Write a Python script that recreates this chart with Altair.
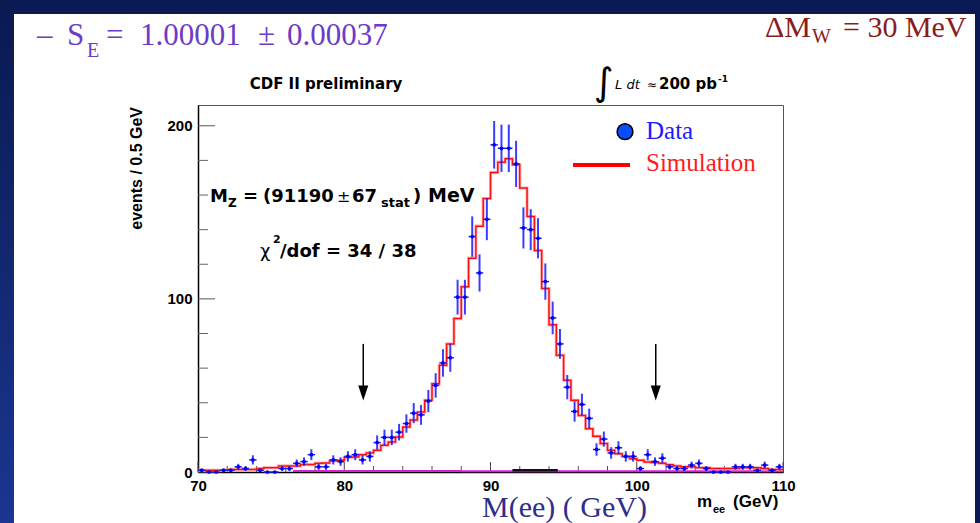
import altair as alt
import numpy as np
import pandas as pd

# Z -> ee invariant mass: 80 bins of 0.5 GeV from 70 to 110 GeV
M_LOW, M_HIGH, BIN_W, N_BINS = 70.0, 110.0, 0.5, 80

data_counts = [
    1, 0, 0, 1, 1, 3, 2, 7, 1, 0,
    0, 2, 2, 5, 6, 10, 3, 3, 7, 6,
    9, 10, 7, 9, 17, 20, 20, 23, 28, 34,
    33, 41, 50, 63, 66, 101, 101, 136, 115, 146,
    189, 187, 187, 178, 141, 140, 135, 110, 89, 74,
    49, 35, 39, 31, 13, 19, 11, 14, 9, 9,
    2, 10, 6, 8, 3, 2, 2, 4, 5, 2,
    0, 0, 0, 3, 3, 3, 1, 4, 1, 3,
]
sim_counts = [
    1, 1, 1, 1, 1.5, 1.5, 1.5, 1.5, 2, 2.5,
    2.5, 3.5, 3.5, 3.5, 4.3, 4.3, 5, 5.2, 6.5, 6.8,
    8.5, 8.7, 10, 11, 12.5, 15.4, 17.3, 20.2, 26, 30,
    34.6, 41.4, 51, 61.6, 74, 88.6, 107, 123.5, 142, 158,
    173, 179, 181, 177.5, 164, 147.6, 128, 106, 85, 67.4,
    53, 41.4, 32.7, 25, 20.6, 16.4, 12.5, 10.6, 9, 7.7,
    6.8, 5.8, 5.5, 5, 4.2, 3.5, 3, 3, 2.5, 2.5,
    2, 2, 2, 2, 2.5, 2.5, 2.5, 2, 1.5, 1.5,
]

# small background contributions near zero
bkg_edges = [76.5, 88.0, 110.0]
bkg_level = [0.6, 0.4, 0.4]
bkg2_edges = [91.5, 94.6]
bkg2_level = [1.0, 1.0]

# fit window arrows
arrow_mass = [81.3, 101.3]
arrow_top, arrow_head = 74.0, 45.7

x_major = [70, 80, 90, 100, 110]
x_minor = [72, 74, 76, 78, 82, 84, 86, 88, 92, 94, 96, 98, 102, 104, 106, 108]
y_major = [0, 100, 200]
y_minor = [20, 40, 60, 80, 120, 140, 160, 180]

W, H = 585, 367
X_DOMAIN = [M_LOW, M_HIGH]
Y_DOMAIN = [0, 212]

lo = M_LOW + BIN_W * np.arange(N_BINS)
hist = pd.DataFrame({
    "lo": lo,
    "hi": lo + BIN_W,
    "mid": lo + BIN_W / 2,
    "n": data_counts,
})
step = pd.DataFrame({
    "edge": list(lo) + [M_HIGH],
    "sim": sim_counts + [sim_counts[-1]],
})
one = pd.DataFrame({"k": [0]})

SANS = "Liberation Sans"
WIDE = "DejaVu Sans"
SERIF = "Liberation Serif"

xs = alt.Scale(domain=X_DOMAIN, nice=False, zero=False)
ys = alt.Scale(domain=Y_DOMAIN, nice=False, zero=True)

# one shared axis definition per channel, used by every positioned layer
AX = alt.Axis(values=x_major, ticks=False, grid=False, domainColor="black",
              domainWidth=1.5, labelFont=SANS, labelFontWeight="bold",
              labelFontSize=15, labelColor="black", labelPadding=6,
              labelFlush=False, labelOverlap=False, title=None, format="d")
AY = alt.Axis(values=y_major, ticks=False, grid=False, domainColor="black",
              domainWidth=1.5, labelFont=SANS, labelFontWeight="bold",
              labelFontSize=15, labelColor="black", labelPadding=6,
              labelOverlap=False, title=None, format="d")


def X(field):
    return alt.X(field, scale=xs, axis=AX, title=None)


def Y(field):
    return alt.Y(field, scale=ys, axis=AY, title=None)


def label(text, x, y, size, color="black", font=SANS, weight="normal",
          style="normal", align="left", baseline="alphabetic", angle=0):
    return alt.Chart(one).mark_text(
        text=text, font=font, fontSize=size, fontWeight=weight, fontStyle=style,
        color=color, align=align, baseline=baseline, angle=angle,
    ).encode(x=alt.value(x), y=alt.value(y))


# slide frame around the figure
edge_dark = "#0a1a52"
top_strip = alt.Chart(one).mark_rect(color=edge_dark).encode(
    x=alt.value(-198), x2=alt.value(782), y=alt.value(-105), y2=alt.value(-91))
left_strip = alt.Chart(one).mark_rect(
    fill=alt.LinearGradient(
        gradient="linear", x1=0, x2=0, y1=0, y2=1,
        stops=[alt.GradientStop(color="#0a1a52", offset=0),
               alt.GradientStop(color="#1a3690", offset=1)])
).encode(x=alt.value(-198), x2=alt.value(-184), y=alt.value(-91), y2=alt.value(418))
right_strip = alt.Chart(one).mark_rect(color=edge_dark).encode(
    x=alt.value(777), x2=alt.value(782), y=alt.value(-91), y2=alt.value(418))

# inward ticks
xmaj = alt.Chart(pd.DataFrame({"v": x_major})).mark_rule(color="#444", strokeWidth=1).encode(
    x=X("v:Q"), y=alt.value(H), y2=alt.value(H - 10))
xmin = alt.Chart(pd.DataFrame({"v": x_minor})).mark_rule(color="#555", strokeWidth=1).encode(
    x=X("v:Q"), y=alt.value(H), y2=alt.value(H - 6))
ymaj = alt.Chart(pd.DataFrame({"v": y_major})).mark_rule(color="#555", strokeWidth=1).encode(
    y=Y("v:Q"), x=alt.value(0), x2=alt.value(17))
ymin = alt.Chart(pd.DataFrame({"v": y_minor})).mark_rule(color="#666", strokeWidth=1).encode(
    y=Y("v:Q"), x=alt.value(0), x2=alt.value(10))

# background histograms along the bottom
bkg = alt.Chart(pd.DataFrame({"e": bkg_edges, "v": bkg_level})).mark_line(
    interpolate="step-after", color="#d81fd8", strokeWidth=2).encode(x=X("e:Q"), y=Y("v:Q"))
bkg2 = alt.Chart(pd.DataFrame({"e": bkg2_edges, "v": bkg2_level})).mark_line(
    color="#111", strokeWidth=2.5).encode(x=X("e:Q"), y=Y("v:Q"))

# simulation histogram
sim_halo = alt.Chart(step).mark_line(
    interpolate="step-after", color="#ff9a9a", strokeWidth=3.2, opacity=0.7).encode(
    x=X("edge:Q"), y=Y("sim:Q"))
sim_line = alt.Chart(step).mark_line(
    interpolate="step-after", color="#ff1010", strokeWidth=1.5).encode(
    x=X("edge:Q"), y=Y("sim:Q"))

# data points with Poisson errors
base = alt.Chart(hist).transform_calculate(
    up="datum.n + sqrt(datum.n)", dn="datum.n - sqrt(datum.n)")
err_v = base.mark_rule(color="#1a1aff", strokeWidth=2, opacity=0.85).encode(
    x=X("mid:Q"), y=Y("dn:Q"), y2="up:Q")
err_h = base.mark_rule(color="#1a1aff", strokeWidth=1.5).encode(
    x=X("lo:Q"), x2="hi:Q", y=Y("n:Q"))
dots = base.mark_point(filled=True, color="#0000ee", size=14, opacity=1).encode(
    x=X("mid:Q"), y=Y("n:Q"))

# fit window arrows
arrows_df = pd.DataFrame({"m": arrow_mass, "top": arrow_top, "head": arrow_head})
arrow_shaft = alt.Chart(arrows_df).mark_rule(color="black", strokeWidth=1.5).encode(
    x=X("m:Q"), y=Y("top:Q"), y2="head:Q")
arrow_tip = alt.Chart(arrows_df).mark_point(
    shape="M-0.67,-1L0.67,-1L0,1Z", filled=True, color="black", size=225, opacity=1).encode(
    x=X("m:Q"), y=Y("head:Q"))

# legend
leg_dot = alt.Chart(one).mark_point(
    filled=True, fill="#0a4cff", stroke="black", strokeWidth=1.5, size=250, opacity=1
).encode(x=alt.value(427), y=alt.value(26.7))
leg_line = alt.Chart(one).mark_rule(color="#ff0000", strokeWidth=4).encode(
    x=alt.value(375), x2=alt.value(432), y=alt.value(60))

purple = "#6a3cc8"
dark_red = "#8b1c1c"
navy = "#2e2e8e"

texts = [
    label("\u2013", -161, -60, 31, purple, SERIF),
    label("S", -131, -60, 31, purple, SERIF),
    label("E", -111, -48, 20, purple, SERIF),
    label("=", -92, -60, 31, purple, SERIF),
    label("1.00001", -58, -60, 31, purple, SERIF),
    label("\u00b1", 60, -60, 31, purple, SERIF),
    label("0.00037", 89, -60, 31, purple, SERIF),
    label("\u0394M", 567, -68.3, 30, dark_red, SERIF),
    label("W", 614, -62, 20, dark_red, SERIF),
    label("= 30 MeV", 645, -68.3, 30, dark_red, SERIF),
    label("CDF II preliminary", 128, -15.7, 15, "black", WIDE, "bold", align="center"),
    label("\u222b", 406, -10, 38, "black", WIDE, align="center"),
    label("L dt", 417, -15.7, 13, "black", WIDE, style="italic"),
    label("\u2248", 449, -15.7, 12, "black", WIDE),
    label("200 pb", 461, -15.7, 15, "black", WIDE, "bold"),
    label("-1", 520, -23, 9, "black", WIDE, "bold"),
    label("events / 0.5 GeV", -61, 2, 16, "black", SANS, "bold",
          align="right", baseline="middle", angle=270),
    label("M", 12, 96.7, 18, "black", WIDE, "bold"),
    label("Z", 30, 102, 12, "black", WIDE, "bold"),
    label("=", 45, 96.7, 18, "black", WIDE, "bold"),
    label("(91190", 65, 96.7, 18, "black", WIDE, "bold"),
    label("\u00b1", 139, 96.7, 16, "black", WIDE),
    label("67", 154, 96.7, 18, "black", WIDE, "bold"),
    label("stat", 183, 102, 13, "black", WIDE, "bold"),
    label(")", 215, 96.7, 18, "black", WIDE, "bold"),
    label("MeV", 230, 96.7, 19, "black", WIDE, "bold"),
    label("\u03c7", 62, 151.7, 18, "black", WIDE),
    label("2", 75, 138, 11, "black", WIDE, "bold"),
    label("/dof = 34 / 38", 82, 151.7, 18, "black", WIDE, "bold"),
    label("Data", 448, 34.3, 25, "#1a1aff", SERIF),
    label("Simulation", 448, 65.7, 25, "#ff1a1a", SERIF),
    label("M(ee) ( GeV)", 284, 412, 30, navy, SERIF),
    label("m", 499, 402, 17, "black", SANS, "bold"),
    label("ee", 515, 408, 11, "black", SANS, "bold"),
    label("(GeV)", 535, 402, 17, "black", SANS, "bold"),
]

chart = alt.layer(
    top_strip, left_strip, right_strip,
    xmin, xmaj, ymin, ymaj,
    bkg, bkg2,
    sim_halo, sim_line,
    err_v, err_h, dots,
    arrow_shaft, arrow_tip,
    leg_dot, leg_line,
    *texts,
).properties(
    width=W, height=H,
    padding={"left": 198, "top": 105, "right": 197, "bottom": 51},
    autosize=alt.AutoSizeParams(type="none"),
).configure(background="white").configure_view(stroke="#555", strokeWidth=1)

chart.save("out.html", embed_options={"renderer": "svg", "actions": False})
